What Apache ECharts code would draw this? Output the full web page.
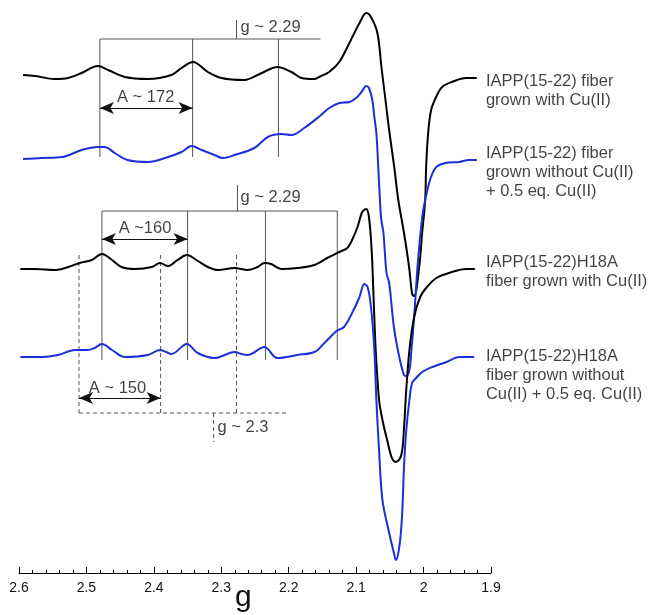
<!DOCTYPE html>
<html><head><meta charset="utf-8">
<script src="https://cdn.jsdelivr.net/npm/echarts@6/dist/echarts.min.js"></script>
<style>html,body{margin:0;padding:0;background:#fff}#c{width:651px;height:615px}</style>
</head><body><div id="c"></div>
<script>
// ---------- data (g value, intensity in arbitrary offset units) ----------
const xTickLabels = [2.6, 2.5, 2.4, 2.3, 2.2, 2.1, 2.0, 1.9];

const specFiberCu = [
 [2.594,493],[2.576,492],[2.547,489],[2.527,490],[2.507,495],[2.483,502],[2.468,498],[2.443,491],
 [2.409,489],[2.374,493],[2.359,500],[2.342,506],[2.320,496],[2.300,490],[2.266,488],[2.240,495],
 [2.217,501],[2.196,496],[2.181,490],[2.162,489],[2.152,492],[2.140,496],[2.125,506],[2.110,525],
 [2.095,545],[2.085,555],[2.078,551],[2.0685,535],[2.0625,501],[2.0565,468],[2.0505,435],[2.0435,401],
 [2.0375,368],[2.0290,335],[2.0215,301],[2.0169,274],[2.0139,272],[2.0065,301],[2.0021,335],
 [1.9976,368],[1.9962,401],[1.9932,435],[1.9888,458],[1.9814,471],[1.9725,481],[1.958,486],
 [1.937,490],[1.921,490]
];
const specFiberAdded = [
 [2.594,409],[2.566,410],[2.536,411],[2.507,418],[2.483,421],[2.473,421],[2.458,415],[2.439,408],
 [2.409,406],[2.379,411],[2.359,416],[2.344,422],[2.329,418],[2.310,413],[2.298,410],[2.280,413],
 [2.251,420],[2.231,431],[2.211,434],[2.196,433],[2.177,440],[2.152,453],[2.140,460],[2.125,465],
 [2.110,466],[2.100,470],[2.092,476],[2.085,482],[2.081,480],[2.076,468],[2.073,451],[2.070,435],
 [2.066,385],[2.063,350],[2.0595,335],[2.055,295],[2.051,285],[2.044,241],[2.036,211],[2.029,193],
 [2.026,192],[2.021,198],[2.018,218],[2.014,251],[2.009,301],[2.002,351],[1.996,373],[1.989,391],
 [1.981,401],[1.967,405],[1.947,406],[1.933,408],[1.921,408]
];
const specH18ACu = [
 [2.598,299],[2.576,299],[2.547,298],[2.527,301],[2.510,305],[2.492,308],[2.477,314],[2.462,308],
 [2.448,301],[2.428,299],[2.403,301],[2.391,305],[2.379,302],[2.365,308],[2.351,313],[2.337,308],
 [2.320,301],[2.305,298],[2.280,300],[2.261,298],[2.246,301],[2.236,305],[2.226,304],[2.211,299],
 [2.187,300],[2.162,303],[2.143,310],[2.125,316],[2.113,320],[2.106,328],[2.098,341],[2.091,356],
 [2.085,359],[2.081,351],[2.077,318],[2.074,268],[2.071,218],[2.066,168],[2.061,148],[2.054,128],
 [2.047,110],[2.041,106],[2.033,113],[2.029,140],[2.026,175],[2.021,218],[2.014,251],[2.005,271],
 [1.995,281],[1.981,290],[1.958,296],[1.937,299],[1.924,299]
];
const specH18AAdded = [
 [2.598,211],[2.566,211],[2.542,213],[2.517,218],[2.498,218],[2.488,220],[2.477,224],[2.462,218],
 [2.443,211],[2.409,213],[2.391,218],[2.382,216],[2.374,214],[2.351,224],[2.335,215],[2.310,210],
 [2.280,216],[2.270,214],[2.261,213],[2.236,221],[2.217,210],[2.187,213],[2.162,216],[2.147,225],
 [2.129,237],[2.118,241],[2.106,255],[2.095,271],[2.088,284],[2.083,281],[2.078,261],[2.073,218],
 [2.070,168],[2.066,118],[2.061,68],[2.051,35],[2.044,15],[2.041,8],[2.036,21],[2.032,51],
 [2.029,101],[2.026,135],[2.021,168],[2.017,185],[2.011,190],[2.002,196],[1.987,201],[1.966,206],
 [1.947,211],[1.925,211]
];

// hyperfine annotations (g positions, intensity levels)
const hfFiberLines = [2.480, 2.3425, 2.2152];
const hfFiberBar   = [529, 411, 2.153];     // bar level, far end of lines, end of bar
const hfFiberMark  = [2.2774, 548];
const hfH18ALines  = [2.477, 2.350, 2.2345, 2.128];
const hfH18ABar    = [357, 208, 2.128];
const hfH18AMark   = [2.276, 383];
const hfAddLines   = [2.511, 2.390, 2.2774];
const hfAddBar     = [155, 315, 2.2034];
const hfAddMark    = [2.3114, 126];

const arrowsA = [[2.480, 2.3425, 460], [2.477, 2.350, 329], [2.511, 2.390, 170]];

const noteTexts = ['g ~ 2.29', 'A ~ 172', 'g ~ 2.29', 'A ~160', 'g ~ 2.3', 'A ~ 150'];
const notePos   = [[2.2714,541],[2.4121,471],[2.2714,371],[2.4131,340],[2.3055,141],[2.4539,180]];
const noteCentered = [false, true, false, true, false, true];

const legendTexts = [
 'IAPP(15-22) fiber\ngrown with Cu(II)',
 'IAPP(15-22) fiber\ngrown without Cu(II)\n+ 0.5 eq. Cu(II)',
 'IAPP(15-22)H18A\nfiber grown with Cu(II)',
 'IAPP(15-22)H18A\nfiber grown without\nCu(II) + 0.5 eq. Cu(II)'
];
const legendPos = [[1.9075,477],[1.9075,396],[1.9075,296],[1.9075,193]];

// ---------- chart ----------
const FONT = '"Liberation Sans", Arial, Helvetica, sans-serif';
const BLACK = '#000000', BLUE = '#1b30d8', ANN = '#555555';
const series = [];

function spec(data, color) {
  series.push({type:'line', data, symbol:'none', smooth:0.35, z:5,
    lineStyle:{color, width:2}, animation:false, silent:true});
}
spec(specFiberCu, BLACK);
spec(specFiberAdded, BLUE);
spec(specH18ACu, BLACK);
spec(specH18AAdded, BLUE);

function seg(a, b, dashed) {
  series.push({type:'line', data:[a, b], symbol:'none', z:3, animation:false, silent:true,
    lineStyle:{color:ANN, width:1, type: dashed ? [4,3] : 'solid'}});
}
function bracket(lines, bar, mark, dashed) {
  lines.forEach(g => seg([g, bar[0]], [g, bar[1]], dashed));
  seg([lines[0], bar[0]], [bar[2], bar[0]], dashed);
  seg([mark[0], bar[0]], [mark[0], mark[1]], dashed);
}
bracket(hfFiberLines, hfFiberBar, hfFiberMark, false);
bracket(hfH18ALines, hfH18ABar, hfH18AMark, false);
bracket(hfAddLines, hfAddBar, hfAddMark, true);

arrowsA.forEach(a => {
  series.push({type:'line', data:[], symbol:'none', animation:false, silent:true, z:4,
    markLine:{silent:true, animation:false, symbol:['arrow','arrow'], symbolSize:[9,14],
      lineStyle:{color:'#111', width:1, type:'solid'}, label:{show:false},
      emphasis:{disabled:true},
      data:[[{coord:[a[0], a[2]]}, {coord:[a[1], a[2]]}]]}});
});

series.push({type:'scatter', symbolSize:0, clip:false, animation:false, silent:true, z:6,
  data: noteTexts.map((t, i) => ({value: notePos[i], name: t,
    label:{show:true, formatter: t, position: noteCentered[i] ? 'inside' : 'right',
      distance:0, color:'#111', fontSize:16.5, fontFamily:FONT}}))});

series.push({type:'scatter', symbolSize:0, clip:false, animation:false, silent:true, z:6,
  data: legendTexts.map((t, i) => ({value: legendPos[i], name: t,
    label:{show:true, formatter: t, position:'right', distance:0, align:'left',
      color:'#111', fontSize:16.5, lineHeight:19, fontFamily:FONT}}))});

const chart = echarts.init(document.getElementById('c'), null, {renderer:'canvas'});
chart.setOption({
  backgroundColor:'#ffffff',
  animation:false,
  grid:{left:19, right:160, top:0, bottom:42, containLabel:false},
  xAxis:{type:'value', inverse:true,
    min: xTickLabels[xTickLabels.length-1], max: xTickLabels[0], interval:0.1,
    axisLine:{show:true, onZero:false, lineStyle:{color:'#000', width:1}},
    axisTick:{show:true, inside:true, length:6, lineStyle:{color:'#000', width:1}},
    minorTick:{show:true, splitNumber:5, length:3, lineStyle:{color:'#000', width:1}},
    splitLine:{show:false}, minorSplitLine:{show:false},
    axisLabel:{color:'#111', fontSize:14, margin:8, fontFamily:FONT,
      formatter: v => String(+v.toFixed(1))}
  },
  yAxis:{type:'value', min:-5, max:568, show:false, splitLine:{show:false}},
  graphic:[{type:'text', left:235, top:583, silent:true,
    style:{text:'g', fontSize:30, fontFamily:FONT, fill:'#111'}}],
  series
});
</script></body></html>
